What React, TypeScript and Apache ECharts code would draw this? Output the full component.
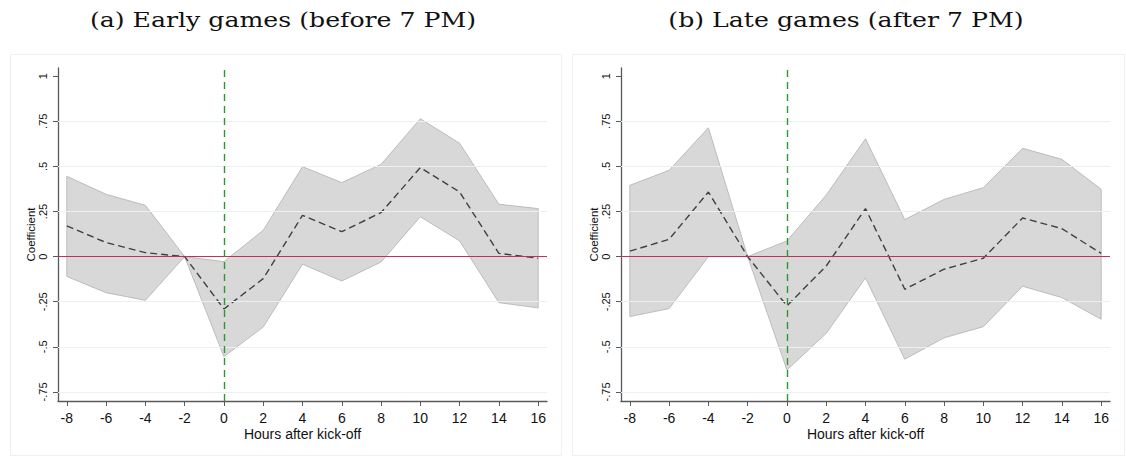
import React, { useEffect, useRef } from "react";
import * as echarts from "echarts";

const hours = [-8, -6, -4, -2, 0, 2, 4, 6, 8, 10, 12, 14, 16];
const yTicks = [-0.75, -0.5, -0.25, 0, 0.25, 0.5, 0.75, 1];
const gridValues = [-0.75, -0.5, -0.25, 0.25, 0.5, 0.75];

const earlyCoef = [0.17, 0.078, 0.022, 0, -0.29, -0.122, 0.229, 0.138, 0.244, 0.493, 0.358, 0.018, -0.009];
const earlyUpper = [0.445, 0.345, 0.284, 0, -0.028, 0.146, 0.498, 0.41, 0.511, 0.764, 0.628, 0.29, 0.266];
const earlyLower = [-0.11, -0.2, -0.242, 0, -0.554, -0.39, -0.042, -0.135, -0.03, 0.221, 0.087, -0.255, -0.284];

const lateCoef = [0.03, 0.096, 0.358, 0, -0.273, -0.052, 0.266, -0.181, -0.07, -0.009, 0.214, 0.155, 0.018];
const lateUpper = [0.395, 0.478, 0.714, 0, 0.087, 0.341, 0.653, 0.205, 0.317, 0.382, 0.6, 0.539, 0.373];
const lateLower = [-0.332, -0.288, 0.0, 0, -0.628, -0.425, -0.118, -0.568, -0.45, -0.388, -0.164, -0.227, -0.347];

const titles = ["(a) Early games (before 7 PM)", "(b) Late games (after 7 PM)"];
const xName = "Hours after kick-off";
const yName = "Coefficient";

const fmtY = (v: number) => {
  if (v === 0) return "0";
  if (v === 1) return "1";
  const s = String(v);
  return s.replace("0.", ".");
};

export default function App() {
  const ref = useRef<HTMLDivElement>(null);
  useEffect(() => {
    const chart = echarts.init(ref.current!, null, { renderer: "svg" });
    const grids = [
      { left: 58, top: 68, width: 489, height: 333 },
      { left: 621, top: 68, width: 489, height: 333 },
    ];
    const panels = [
      { coef: earlyCoef, upper: earlyUpper, lower: earlyLower },
      { coef: lateCoef, upper: lateUpper, lower: lateLower },
    ];
    const axisFont = "Liberation Sans, Arial, sans-serif";
    const axisColor = "#5a5a5a";
    const xAxis: any[] = [];
    const yAxis: any[] = [];
    const series: any[] = [];
    panels.forEach((p, i) => {
      xAxis.push({
        type: "value",
        gridIndex: i,
        min: -8.45,
        max: 16.45,
        name: xName,
        nameLocation: "middle",
        nameGap: 26,
        nameMoveOverlap: false,
        nameTextStyle: { fontFamily: axisFont, fontSize: 14, color: "#111" },
        axisLine: { onZero: false, lineStyle: { color: axisColor, width: 1.3 } },
        axisTick: { customValues: hours, length: 5, lineStyle: { color: axisColor } },
        axisLabel: { customValues: hours, fontFamily: axisFont, fontSize: 14, color: "#111", margin: 10 },
        splitLine: { show: false },
      });
      yAxis.push({
        type: "value",
        gridIndex: i,
        min: -0.8,
        max: 1.045,
        name: yName,
        nameLocation: "middle",
        nameGap: 21,
        nameMoveOverlap: false,
        nameRotate: 90,
        nameTextStyle: { fontFamily: axisFont, fontSize: 11.5, color: "#111" },
        axisLine: { show: true, onZero: false, lineStyle: { color: axisColor, width: 1.3 } },
        axisTick: { show: true, customValues: yTicks, length: 5, lineStyle: { color: axisColor } },
        axisLabel: { customValues: yTicks, rotate: 90, fontFamily: axisFont, fontSize: 11, color: "#111", margin: 10, formatter: fmtY },
        splitLine: { show: false },
      });
      series.push({
        type: "line",
        xAxisIndex: i,
        yAxisIndex: i,
        data: [],
        z: 1,
        silent: true,
        markLine: {
          silent: true,
          symbol: "none",
          label: { show: false },
          lineStyle: { color: "#e8f1f3", width: 1, type: "solid" },
          data: gridValues.map((v) => ({ yAxis: v })),
        },
      });
      series.push({
        type: "custom",
        xAxisIndex: i,
        yAxisIndex: i,
        z: 2,
        silent: true,
        data: hours.map((h, k) => [h, p.lower[k], p.upper[k]]),
        encode: { x: 0, y: [1, 2] },
        renderItem: (params: any, api: any) => {
          if (params.dataIndex !== 0) return null;
          const pts: number[][] = [];
          hours.forEach((h, k) => pts.push(api.coord([h, p.upper[k]])));
          for (let k = hours.length - 1; k >= 0; k--) pts.push(api.coord([hours[k], p.lower[k]]));
          return {
            type: "polygon",
            shape: { points: pts },
            style: { fill: "#d8d8d8", stroke: "#bcbcbc", lineWidth: 1 },
          };
        },
      });
      series.push({
        type: "line",
        xAxisIndex: i,
        yAxisIndex: i,
        z: 3,
        silent: true,
        data: [],
        markLine: {
          silent: true,
          symbol: "none",
          label: { show: false },
          data: [
            { yAxis: 0, lineStyle: { color: "#c2305a", width: 1.2, type: "solid" } },
            { xAxis: 0, lineStyle: { color: "#2a9a2a", width: 1.4, type: [7, 5] } },
          ],
        },
      });
      series.push({
        type: "line",
        xAxisIndex: i,
        yAxisIndex: i,
        z: 4,
        silent: true,
        showSymbol: false,
        symbol: "none",
        data: hours.map((h, k) => [h, p.coef[k]]),
        lineStyle: { color: "#404040", width: 1.4, type: [7, 4] },
      });
    });

    const titleStyle = { align: "center", verticalAlign: "middle", fontFamily: "DejaVu Serif, serif", fontSize: 21, fill: "#111" };
    chart.setOption({
      animation: false,
      backgroundColor: "#ffffff",
      grid: grids,
      xAxis,
      yAxis,
      series,
      graphic: [
        { type: "rect", z: -10, shape: { x: 10.5, y: 54.5, width: 551, height: 401 }, style: { fill: "#fff", stroke: "#efefef", lineWidth: 1 } },
        { type: "rect", z: -10, shape: { x: 572.5, y: 54.5, width: 552, height: 401 }, style: { fill: "#fff", stroke: "#efefef", lineWidth: 1 } },
        { type: "text", x: 283, y: 19, scaleX: 1.2, style: { ...titleStyle, text: titles[0] } },
        { type: "text", x: 846, y: 19, scaleX: 1.2, style: { ...titleStyle, text: titles[1] } },
      ],
    });
    return () => chart.dispose();
  }, []);
  return <div ref={ref} style={{ position: "fixed", left: 0, top: 0, width: 1126, height: 458 }} />;
}
